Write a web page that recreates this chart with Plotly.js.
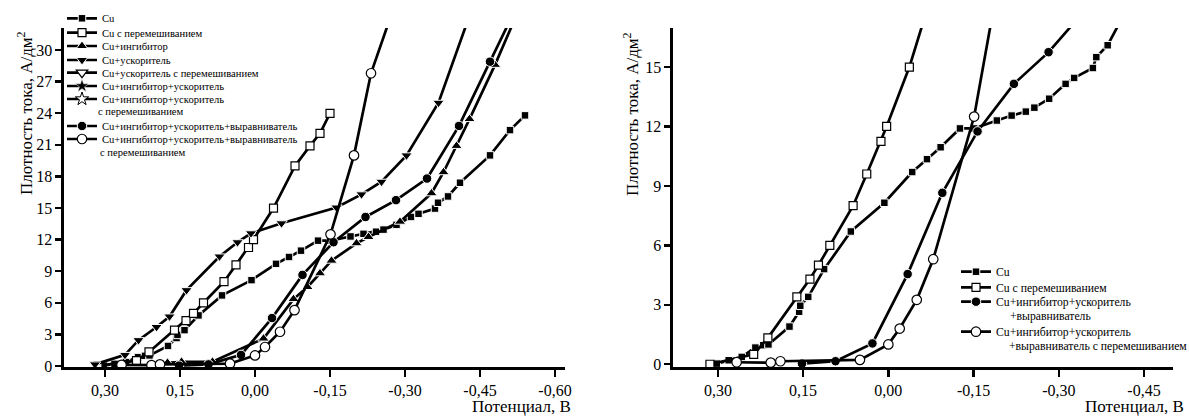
<!DOCTYPE html>
<html><head><meta charset="utf-8">
<script src="https://cdn.plot.ly/plotly-3.0.1.min.js"></script>
<style>html,body{margin:0;padding:0;background:#fff}#chart{width:1189px;height:418px}</style>
</head><body><div id="chart"></div>
<script>
// ---- data (potential, V ; current density, A/dm2) ----
const cuV = [0.302, 0.281, 0.258, 0.234, 0.220, 0.211, 0.174, 0.157, 0.155, 0.141, 0.113, 0.066, 0.007, -0.042, -0.068, -0.092, -0.126, -0.151, -0.191, -0.217, -0.242, -0.257, -0.283, -0.312, -0.327, -0.360, -0.366, -0.386, -0.41, -0.47, -0.51, -0.54];
const cuJ = [0.03, 0.2, 0.37, 0.84, 0.96, 1.0, 1.9, 2.65, 2.95, 3.4, 4.8, 6.7, 8.15, 9.7, 10.35, 10.95, 11.9, 11.9, 12.3, 12.55, 12.75, 12.95, 13.4, 14.15, 14.45, 14.95, 15.5, 16.1, 17.4, 20.0, 22.4, 23.8];

const cuStirV = [0.314, 0.237, 0.212, 0.161, 0.138, 0.123, 0.103, 0.062, 0.038, 0.013, 0.003, -0.037, -0.08, -0.11, -0.13, -0.15];
const cuStirJ = [0.0, 0.5, 1.33, 3.4, 4.3, 5.0, 6.0, 8.0, 9.6, 11.25, 12.0, 15.0, 19.0, 20.9, 22.1, 24.0];

const inhV = [0.175, 0.147, 0.085, -0.017, -0.077, -0.105, -0.13, -0.153, -0.203, -0.227, -0.29, -0.353, -0.377, -0.403, -0.429, -0.48, -0.52];
const inhJ = [0.3, 0.4, 0.4, 2.6, 6.35, 7.5, 8.8, 10.0, 11.65, 12.25, 13.7, 16.4, 18.4, 20.9, 23.45, 28.6, 33.0];

const accV = [0.32, 0.26, 0.233, 0.197, 0.171, 0.137, 0.071, 0.035, 0.008, -0.053, -0.163, -0.213, -0.253, -0.303, -0.367, -0.43];
const accJ = [0.15, 1.05, 2.45, 3.7, 4.7, 7.2, 10.4, 11.75, 12.6, 13.55, 15.05, 16.3, 17.5, 20.0, 25.0, 33.4];

// series listed in the legend but with no visible points in the picture
const accStirV = [null], accStirJ = [null];
const inhAccV = [null], inhAccJ = [null];
const inhAccStirV = [null], inhAccStirJ = [null];

const ilaV = [0.152, 0.093, 0.028, -0.034, -0.095, -0.157, -0.221, -0.282, -0.344, -0.408, -0.47, -0.52];
const ilaJ = [0.03, 0.15, 1.05, 4.55, 8.65, 11.75, 14.15, 15.75, 17.8, 22.8, 28.9, 33.8];

const ilaStirV = [0.267, 0.207, 0.19, 0.05, 0.0, -0.02, -0.05, -0.079, -0.151, -0.198, -0.232, -0.27];
const ilaStirJ = [0.1, 0.08, 0.15, 0.22, 1.0, 1.8, 3.25, 5.3, 12.5, 20.0, 27.8, 33.0];

const leftNames = ['Cu', 'Cu с перемешиванием', 'Cu+ингибитор', 'Cu+ускоритель', 'Cu+ускоритель с перемешиванием',
  'Cu+ингибитор+ускоритель', 'Cu+ингибитор+ускоритель', 'Cu+ингибитор+ускоритель+выравниватель', 'Cu+ингибитор+ускоритель+выравниватель'];
const leftNameCont = ['с перемешиванием', 'с перемешиванием'];
const rightNames = ['Cu', 'Cu с перемешиванием', 'Cu+ингибитор+ускоритель', 'Cu+ингибитор+ускоритель'];
const rightNameCont = ['+выравниватель', '+выравниватель с перемешиванием'];

const xTickVals1 = [0.30, 0.15, 0.00, -0.15, -0.30, -0.45, -0.60];
const xTickText1 = ['0,30', '0,15', '0,00', '-0,15', '-0,30', '-0,45', '-0,60'];
const xTickVals2 = [0.30, 0.15, 0.00, -0.15, -0.30, -0.45];
const xTickText2 = ['0,30', '0,15', '0,00', '-0,15', '-0,30', '-0,45'];
const yTickVals1 = [0, 3, 6, 9, 12, 15, 18, 21, 24, 27, 30];
const yTickVals2 = [0, 3, 6, 9, 12, 15];
const yTitle = 'Плотность тока, А/дм<sup>2</sup>';
const xTitle = 'Потенциал, В';

// ---- styles ----
const FONT = 'Liberation Serif, Times New Roman, serif';
const W = 1189, H = 418;
const M = {
  sqF: {symbol: 'square', size: 7.5, color: '#000', line: {color: '#fff', width: 1}},
  sqO: {symbol: 'square', size: 8, color: '#fff', line: {color: '#000', width: 1.2}},
  trU: {symbol: 'triangle-up', size: 10, color: '#000', line: {color: '#fff', width: 1}},
  trD: {symbol: 'triangle-down', size: 10, color: '#000', line: {color: '#fff', width: 1}},
  trDO: {symbol: 'triangle-down', size: 10, color: '#fff', line: {color: '#000', width: 1.2}},
  stF: {symbol: 'star', size: 10, color: '#000', line: {color: '#fff', width: 0.5}},
  stO: {symbol: 'star', size: 10, color: '#fff', line: {color: '#000', width: 1}},
  ciF: {symbol: 'circle', size: 9.5, color: '#000', line: {color: '#fff', width: 1}},
  ciO: {symbol: 'circle', size: 9.5, color: '#fff', line: {color: '#000', width: 1.2}}
};
function tr(x, y, name, marker, ax, legend) {
  return {x: x, y: y, name: name, type: 'scatter', mode: 'lines+markers',
    xaxis: ax === 2 ? 'x2' : 'x', yaxis: ax === 2 ? 'y2' : 'y',
    line: {color: '#000', width: 2.7}, marker: marker, legend: legend, showlegend: true, cliponaxis: true};
}
const data = [
  tr(cuV, cuJ, leftNames[0], M.sqF, 1, 'legend'),
  tr(cuStirV, cuStirJ, leftNames[1], M.sqO, 1, 'legend2'),
  tr(inhV, inhJ, leftNames[2], M.trU, 1, 'legend3'),
  tr(accV, accJ, leftNames[3], M.trD, 1, 'legend4'),
  tr(accStirV, accStirJ, leftNames[4], M.trDO, 1, 'legend5'),
  tr(inhAccV, inhAccJ, leftNames[5], M.stF, 1, 'legend6'),
  tr(inhAccStirV, inhAccStirJ, leftNames[6], M.stO, 1, 'legend7'),
  tr(ilaV, ilaJ, leftNames[7], M.ciF, 1, 'legend8'),
  tr(ilaStirV, ilaStirJ, leftNames[8], M.ciO, 1, 'legend9'),
  tr(cuV, cuJ, rightNames[0], M.sqF, 2, 'legend10'),
  tr(cuStirV, cuStirJ, rightNames[1], M.sqO, 2, 'legend11'),
  tr(ilaV, ilaJ, rightNames[2], M.ciF, 2, 'legend12'),
  tr(ilaStirV, ilaStirJ, rightNames[3], M.ciO, 2, 'legend13')
];

const px = v => v / W, py = v => 1 - v / H;
const axBase = {showline: true, linecolor: '#000', linewidth: 2.6, ticks: 'outside', tickwidth: 2.4, ticklen: 6,
  tickcolor: '#000', showgrid: false, zeroline: false, tickfont: {family: FONT, size: 16, color: '#000'}, fixedrange: true};
const yDom = [1 - 367 / H, 1 - 28 / H];
const ann = (text, x, y, xa, ya, size, angle) => ({text: text, xref: 'paper', yref: 'paper', x: px(x), y: py(y),
  xanchor: xa, yanchor: ya, textangle: angle || 0, showarrow: false, font: {family: FONT, size: size, color: '#000'}});
const layout = {
  width: W, height: H, margin: {l: 0, r: 0, t: 0, b: 0}, paper_bgcolor: '#fff', plot_bgcolor: 'rgba(0,0,0,0)',
  font: {family: FONT, color: '#000'}, showlegend: true,
  xaxis: Object.assign({}, axBase, {domain: [px(64), px(565)], range: [0.382, -0.62], anchor: 'y', tickmode: 'array', tickvals: xTickVals1, ticktext: xTickText1, ticklen: 7}),
  yaxis: Object.assign({}, axBase, {domain: yDom, range: [-0.1, 32.1], anchor: 'x', tickmode: 'array', tickvals: yTickVals1}),
  xaxis2: Object.assign({}, axBase, {domain: [px(673), px(1173)], range: [0.379, -0.501], anchor: 'y2', tickmode: 'array', tickvals: xTickVals2, ticktext: xTickText2, ticklen: 7}),
  yaxis2: Object.assign({}, axBase, {domain: yDom, range: [-0.14, 16.97], anchor: 'x2', tickmode: 'array', tickvals: yTickVals2}),
  annotations: [
    ann(yTitle, 25, 113, 'center', 'middle', 17, -90),
    ann(yTitle, 631, 114, 'center', 'middle', 17, -90),
    ann(xTitle, 573, 418, 'right', 'bottom', 17),
    ann(xTitle, 1186, 418, 'right', 'bottom', 17),
    ann(leftNameCont[0], 96, 111.7, 'left', 'middle', 10.6),
    ann(leftNameCont[1], 98, 152.7, 'left', 'middle', 10.6),
    ann(rightNameCont[0], 1008, 316.7, 'left', 'middle', 11.7),
    ann(rightNameCont[1], 1007, 346.7, 'left', 'middle', 11.7)
  ]
};
const leftRows = [18.3, 32.7, 46, 60, 72.7, 86, 99, 126, 139];
const rightRows = [271.7, 287.3, 301.7, 331.7];
function leg(xpx, ypx, size) {
  return {x: px(xpx), y: py(ypx), xanchor: 'left', yanchor: 'middle', bgcolor: 'rgba(0,0,0,0)', borderwidth: 0,
    font: {family: FONT, size: size, color: '#000'}, visible: true, itemclick: false, itemdoubleclick: false};
}
leftRows.forEach((r, i) => { layout[i === 0 ? 'legend' : 'legend' + (i + 1)] = leg(62, r, 10.6); });
rightRows.forEach((r, i) => { layout['legend' + (i + 10)] = leg(956, r, 11.7); });

Plotly.newPlot('chart', data, layout, {displayModeBar: false, staticPlot: true});
</script>
</body></html>
